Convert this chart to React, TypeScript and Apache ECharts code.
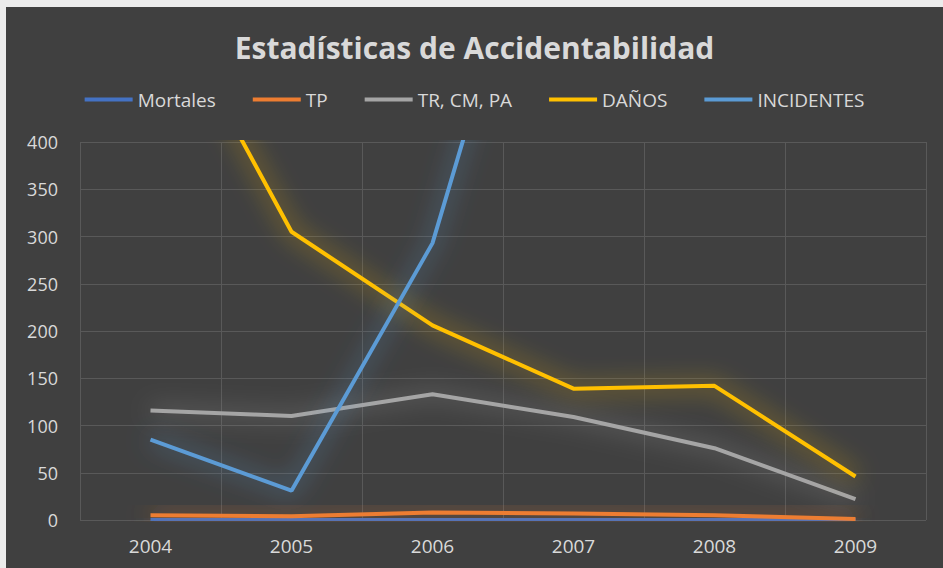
import React, { useEffect, useRef } from "react";
import * as echarts from "echarts";

const years = ["2004", "2005", "2006", "2007", "2008", "2009"];
const mortales = [1, 1, 1, 1, 1, 0];
const tp = [5, 4, 8, 7, 5, 1];
const trCmPa = [116, 110, 133, 109, 76, 22];
const danos = [580, 305, 206, 139, 142, 46];
const incidentes = [85, 31, 293, 795, 720, 650];

const seriesNames = ["Mortales", "TP", "TR, CM, PA", "DAÑOS", "INCIDENTES"];
const seriesColors = ["#4472C4", "#ED7D31", "#A5A5A5", "#FFC000", "#5B9BD5"];
const seriesData = [mortales, tp, trCmPa, danos, incidentes];

const FONT = "'Open Sans', 'Noto Sans', sans-serif";

function hexToRgba(hex: string, a: number) {
  const n = parseInt(hex.slice(1), 16);
  return `rgba(${(n >> 16) & 255},${(n >> 8) & 255},${n & 255},${a})`;
}

export default function App() {
  const ref = useRef<HTMLDivElement>(null);
  useEffect(() => {
    if (!ref.current) return;
    const chart = echarts.init(ref.current, undefined, { renderer: "svg" });
    chart.setOption({
      animation: false,
      backgroundColor: "#404040",
      title: {
        text: "Estadísticas de Accidentabilidad",
        left: "center",
        top: 20,
        textStyle: { color: "#D9D9D9", fontSize: 30, fontWeight: "bold", fontFamily: FONT },
      },
      legend: {
        top: 78,
        left: "center",
        icon: "rect",
        itemWidth: 48,
        itemHeight: 4,
        itemGap: 37,
        textStyle: { color: "#D9D9D9", fontSize: 19, fontFamily: FONT },
        data: seriesNames,
      },
      grid: { left: 74, right: 17, top: 135, bottom: 48, containLabel: false },
      xAxis: {
        type: "category",
        data: years,
        boundaryGap: true,
        axisLine: { show: false },
        axisTick: { show: false },
        axisLabel: { color: "#D9D9D9", fontSize: 19, fontFamily: FONT, margin: 16 },
        splitLine: { show: true, lineStyle: { color: "#595959", width: 1 } },
      },
      yAxis: {
        type: "value",
        min: 0,
        max: 400,
        interval: 50,
        axisLine: { show: false },
        axisTick: { show: false },
        axisLabel: { color: "#D9D9D9", fontSize: 18, fontFamily: FONT, margin: 22 },
        splitLine: { show: true, lineStyle: { color: "#595959", width: 1 } },
      },
      series: seriesNames.map((name, i) => ({
        name,
        type: "line",
        data: seriesData[i],
        symbol: "none",
        clip: true,
        color: seriesColors[i],
        lineStyle: {
          width: 4,
          color: seriesColors[i],
          shadowBlur: 24,
          shadowColor: hexToRgba(seriesColors[i], 0.9),
        },
        z: 2 + i,
      })),
    });
    return () => chart.dispose();
  }, []);
  return (
    <div style={{ position: "fixed", left: 0, top: 0, width: 943, height: 568, background: "#ececec" }}>
      <div ref={ref} style={{ position: "absolute", left: 6, top: 7, width: 937, height: 561 }} />
    </div>
  );
}
